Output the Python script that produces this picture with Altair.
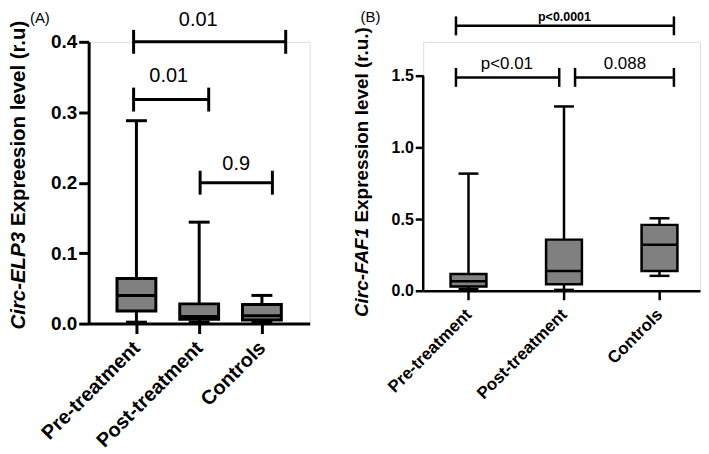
import altair as alt
import pandas as pd

FONT = "Liberation Sans, Arial, sans-serif"
GRAY = "#808080"

groups = ["Pre-treatment", "Post-treatment", "Controls"]
positions = [0, 1, 2]

# Panel A: Circ-ELP3 (min, Q1, median, Q3, max)
a_min = [0.002, 0.002, 0.003]
a_q1 = [0.018, 0.006, 0.005]
a_med = [0.040, 0.010, 0.011]
a_q3 = [0.064, 0.028, 0.027]
a_max = [0.288, 0.144, 0.040]

# Panel B: Circ-FAF1
b_min = [0.012, 0.006, 0.104]
b_q1 = [0.030, 0.045, 0.138]
b_med = [0.066, 0.138, 0.322]
b_q3 = [0.117, 0.357, 0.460]
b_max = [0.818, 1.287, 0.506]

# significance brackets (x in group-index units, y in data units)
a_br_x1 = [-0.045, -0.045, 1.015]
a_br_x2 = [2.379, 1.152, 2.167]
a_br_y = [0.400, 0.318, 0.200]
a_br_text = ["0.01", "0.01", "0.9"]
a_br_tx = [0.985, 0.515, 1.59]
a_br_ty = [0.431, 0.352, 0.227]

b_br_x1 = [-0.131, -0.131, 1.116]
b_br_x2 = [2.151, 0.950, 2.151]
b_br_y = [1.85, 1.49, 1.49]
b_br_text = ["p<0.0001", "p<0.01", "0.088"]
b_br_tx = [1.005, 0.402, 1.638]
b_br_ty = [1.915, 1.582, 1.582]

a_yticks = [0.0, 0.1, 0.2, 0.3, 0.4]
b_yticks = [0.0, 0.5, 1.0, 1.5]

label_expr = " : ".join(
    [f"datum.value == {p} ? '{g}'" for p, g in zip(positions[:-1], groups[:-1])]
) + f" : '{groups[-1]}'"


def panel(mins, q1, med, q3, mx, bx1, bx2, by, btext, btx, bty,
          yticks, ydomain, xdomain, width, height, s):
    box = pd.DataFrame({"pos": positions, "group": groups, "mn": mins,
                        "q1": q1, "med": med, "q3": q3, "mx": mx})
    br = pd.DataFrame({"x1": bx1, "x2": bx2, "y": by})
    lab = pd.DataFrame({"tx": btx, "ty": bty, "t": btext})

    xscale = alt.Scale(domain=xdomain, nice=False, zero=False)
    yscale = alt.Scale(domain=ydomain, nice=False, zero=False)
    xaxis = alt.Axis(values=positions, labelExpr=label_expr, title=None, grid=False,
                     tickSize=s["xtick"], tickWidth=s["lw"], tickColor="black",
                     domainWidth=s["lw"], domainColor="black",
                     labelAngle=315, labelAlign="right", labelBaseline="middle",
                     labelOverlap=False, labelBound=False, labelFlush=False,
                     labelFontSize=s["xfs"], labelFontWeight="bold", labelColor="black",
                     labelFont=FONT, labelPadding=s["xpad"])
    yaxis = alt.Axis(values=yticks, format=".1f", title=None, grid=False,
                     tickSize=s["ytick"], tickWidth=s["lw"], tickColor="black",
                     domain=s["ydomain_line"], domainWidth=s["lw"], domainColor="black",
                     labelFontSize=s["yfs"], labelFontWeight="bold", labelColor="black",
                     labelOverlap=False, labelFlush=False,
                     labelFont=FONT, labelPadding=2)

    def X(f):
        return alt.X(f, type="quantitative", scale=xscale, axis=xaxis)

    def Y(f):
        return alt.Y(f, type="quantitative", scale=yscale, axis=yaxis)

    base = alt.Chart(box)
    whisk = base.mark_rule(color="black", strokeWidth=s["lw"]).encode(
        x=X("pos"), y=Y("mn"), y2="mx")
    boxes = base.mark_bar(fill=GRAY, stroke="black", strokeWidth=s["lw"],
                          size=s["box"]).encode(x=X("pos"), y=Y("q1"), y2="q3")
    medians = base.mark_tick(orient="horizontal", color="black", size=s["box"],
                             thickness=s["lw"], opacity=1).encode(x=X("pos"), y=Y("med"))
    cap_hi = base.mark_tick(orient="horizontal", color="black", size=s["cap"],
                            thickness=s["lw"], opacity=1).encode(x=X("pos"), y=Y("mx"))
    cap_lo = base.mark_tick(orient="horizontal", color="black", size=s["cap"],
                            thickness=s["lw"], opacity=1).encode(x=X("pos"), y=Y("mn"))

    bb = alt.Chart(br)
    br_line = bb.mark_rule(color="black", strokeWidth=s["lw"]).encode(
        x=X("x1"), x2="x2", y=Y("y"))
    br_c1 = bb.mark_tick(orient="vertical", color="black", size=s["bcap"],
                         thickness=s["lw"], opacity=1).encode(x=X("x1"), y=Y("y"))
    br_c2 = bb.mark_tick(orient="vertical", color="black", size=s["bcap"],
                         thickness=s["lw"], opacity=1).encode(x=X("x2"), y=Y("y"))

    layers = [whisk, boxes, medians, cap_hi, cap_lo, br_line, br_c1, br_c2]

    for i in range(len(btext)):
        li = lab.iloc[[i]]
        layers.append(
            alt.Chart(li).mark_text(font=FONT, fontSize=s["bfs"][i],
                                    fontWeight=s["bfw"][i], color="black",
                                    baseline="middle", align="center")
            .encode(x=X("tx"), y=Y("ty"), text="t:N"))

    if not s["ydomain_line"]:
        layers.append(alt.Chart(pd.DataFrame({"a": [0]})).mark_rule(
            color="black", strokeWidth=s["lw"]).encode(
            x=alt.value(0), y=alt.datum(yticks[0], scale=yscale, axis=yaxis),
            y2=alt.datum(yticks[-1])))

    # axis title: italic gene name + bold rest
    layers.append(alt.Chart(pd.DataFrame({"t": [s["title_it"]]})).mark_text(
        font=FONT, fontSize=s["tfs"], fontWeight="bold", fontStyle="italic",
        angle=270, align="right", baseline="middle", color="black").encode(
        x=alt.value(s["tx"]), y=alt.value(s["tjy"] + s["tgap"]), text="t:N"))
    layers.append(alt.Chart(pd.DataFrame({"t": [s["title_rest"]]})).mark_text(
        font=FONT, fontSize=s["tfs"], fontWeight="bold",
        angle=270, align="left", baseline="middle", color="black").encode(
        x=alt.value(s["tx"]), y=alt.value(s["tjy"]), text="t:N"))
    # panel letter
    layers.append(alt.Chart(pd.DataFrame({"t": [s["letter"]]})).mark_text(
        font=FONT, fontSize=15, color="black", baseline="middle", align="center").encode(
        x=alt.value(s["lx"]), y=alt.value(s["ly"]), text="t:N"))

    return alt.layer(*layers).properties(width=width, height=height)


panel_a = panel(a_min, a_q1, a_med, a_q3, a_max,
                a_br_x1, a_br_x2, a_br_y, a_br_text, a_br_tx, a_br_ty,
                a_yticks, [0, 0.4], [-0.682, 2.682], 222, 283,
                dict(lw=3, xtick=10, ytick=10, xfs=20, yfs=19, box=39, cap=21, bcap=24,
                     xpad=11,
                     bfs=[20, 20, 20], bfw=["normal", "normal", "normal"],
                     ydomain_line=True, title_it="Circ-ELP3",
                     title_rest="Expreesion level (r.u)", tfs=20.5,
                     tx=-70, tjy=185, tgap=6, letter="(A)", lx=-49, ly=-24))

panel_b = panel(b_min, b_q1, b_med, b_q3, b_max,
                b_br_x1, b_br_x2, b_br_y, b_br_text, b_br_tx, b_br_ty,
                b_yticks, [0, 1.7385], [-0.422, 2.372], 278, 250,
                dict(lw=2.5, xtick=9, ytick=8, xfs=17, yfs=16, box=36, cap=20, bcap=19,
                     xpad=12,
                     bfs=[12.5, 17, 17], bfw=["bold", "normal", "normal"],
                     ydomain_line=False, title_it="Circ-FAF1",
                     title_rest="Expression level (r.u.)", tfs=19,
                     tx=-61, tjy=181.5, tgap=5.3, letter="(B)", lx=-53, ly=-25))

chart = alt.hconcat(panel_a, panel_b, spacing=42).properties(padding=0).configure_view(
    stroke=None).configure(background="white")

chart.save("out.html", embed_options={"renderer": "svg", "actions": False})
